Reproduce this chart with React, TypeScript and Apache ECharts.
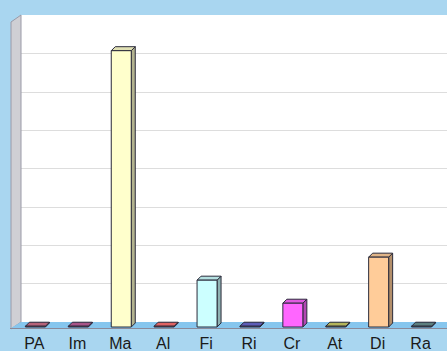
import React, { useEffect, useRef } from "react";
import * as echarts from "echarts";

const categories = ["PA", "Im", "Ma", "Al", "Fi", "Ri", "Cr", "At", "Di", "Ra"];
const values = [0.02, 0.02, 7.2, 0.02, 1.22, 0.02, 0.62, 0.02, 1.82, 0.02];
const colors = ["#d0708a", "#c0609a", "#ffffcc", "#ff7070", "#ccffff", "#6a6ad0", "#ff66ff", "#cccc66", "#ffcc99", "#6a9090"];

function shade(hex: string, f: number): string {
  const n = parseInt(hex.slice(1), 16);
  let r = (n >> 16) & 255, g = (n >> 8) & 255, b = n & 255;
  if (f < 0) {
    r = Math.round(r * (1 + f)); g = Math.round(g * (1 + f)); b = Math.round(b * (1 + f));
  } else {
    r = Math.round(r + (255 - r) * f); g = Math.round(g + (255 - g) * f); b = Math.round(b + (255 - b) * f);
  }
  return `rgb(${r},${g},${b})`;
}

export default function App() {
  const ref = useRef<HTMLDivElement>(null);
  useEffect(() => {
    document.body.style.margin = "0";
    const chart = echarts.init(ref.current!, null, { renderer: "svg" });
    const data = values.map((v, i) => [i, v]);
    const gridColors = ["transparent", "#dddddd", "#dddddd", "#dddddd", "#dddddd", "#dddddd", "#dddddd", "#dddddd", "transparent"];
    chart.setOption({
      animation: false,
      backgroundColor: "#a9d6f0",
      grid: [
        { left: 21, right: 0, top: 15, bottom: 29, show: true, backgroundColor: "#ffffff", borderWidth: 0 },
        { left: 13, right: 5, top: 20, bottom: 24 },
      ],
      xAxis: [
        { type: "category", gridIndex: 0, data: categories, show: false },
        {
          type: "category",
          gridIndex: 1,
          data: categories,
          axisLine: { show: false },
          axisTick: { show: false },
          axisLabel: { color: "#1a1a1a", fontSize: 16, fontFamily: "Liberation Sans, Arial, sans-serif", margin: 8 },
        },
      ],
      yAxis: [
        {
          type: "value", gridIndex: 0, min: 0, max: 8, interval: 1,
          axisLine: { show: false }, axisTick: { show: false }, axisLabel: { show: false },
          splitLine: { show: true, lineStyle: { color: gridColors, width: 1 } },
        },
        {
          type: "value", gridIndex: 1, min: 0, max: 8, interval: 1, show: false,
          splitLine: { show: false },
        },
      ],
      graphic: [
        {
          type: "polygon", z: 1, silent: true,
          shape: { points: [[21, 15], [21, 322], [11, 329], [11, 22]] },
          style: { fill: "#cfcfd4", stroke: "#9a9aa8", lineWidth: 1 },
        },
        {
          type: "polygon", z: 1, silent: true,
          shape: { points: [[21, 322], [447, 322], [447, 328], [11, 328]] },
          style: { fill: "#86c6ee", stroke: "none" },
        },
        {
          type: "line", z: 1, silent: true,
          shape: { x1: 10, y1: 328.5, x2: 447, y2: 328.5 },
          style: { stroke: "#8a8a9a", lineWidth: 1 },
        },
      ],
      series: [
        {
          type: "custom",
          xAxisIndex: 1,
          yAxisIndex: 1,
          data,
          renderItem: (params: any, api: any) => {
            const idx = api.value(0);
            const v = api.value(1);
            const top = api.coord([idx, v]);
            const base = api.coord([idx, 0]);
            const w = 20, dx = 4, dy = 4;
            const l = top[0] + 1 - w / 2;
            const t = top[1];
            const b = base[1];
            const c = colors[params.dataIndex];
            const stroke = "#2a2a3a";
            return {
              type: "group",
              children: [
                {
                  type: "polygon",
                  shape: { points: [[l + w, t], [l + w + dx, t - dy], [l + w + dx, b - dy], [l + w, b]] },
                  style: { fill: shade(c, -0.3), stroke, lineWidth: 1 },
                },
                {
                  type: "polygon",
                  shape: { points: [[l, t], [l + dx, t - dy], [l + w + dx, t - dy], [l + w, t]] },
                  style: { fill: shade(c, -0.12), stroke, lineWidth: 1 },
                },
                {
                  type: "rect",
                  shape: { x: l, y: t, width: w, height: Math.max(0, b - t) },
                  style: { fill: c, stroke, lineWidth: 1 },
                },
              ],
            };
          },
        },
      ],
    });
    return () => chart.dispose();
  }, []);
  return <div ref={ref} style={{ width: 447, height: 351 }} />;
}
